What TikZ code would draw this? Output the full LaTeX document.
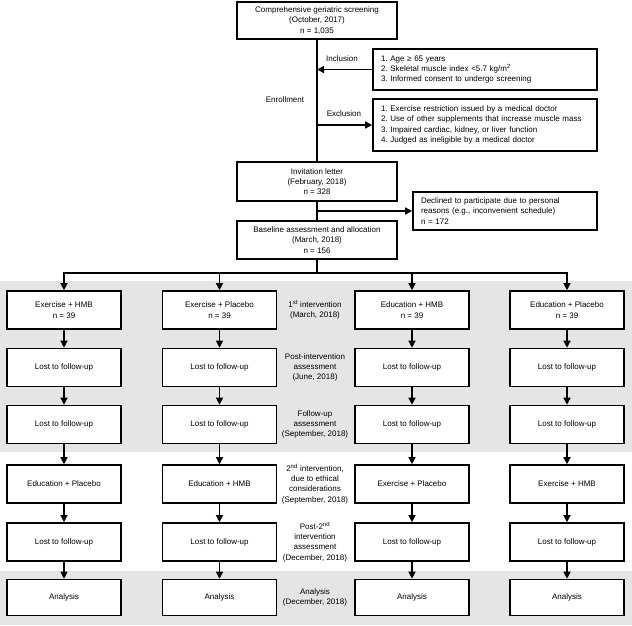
\documentclass[tikz,border=0pt]{standalone}
\usepackage{fontspec}
\setmainfont{Liberation Sans}
\usetikzlibrary{arrows.meta}
\begin{document}
\begin{tikzpicture}[x=1pt,y=-1pt,
  every node/.style={font=\fontsize{8}{10.3}\selectfont},
  box/.style={draw,line width=1.6pt,fill=white,align=center,inner sep=0pt,minimum height=38pt},
  mainbox/.style={box,minimum width=160pt},
  armbox/.style={box,minimum width=114pt},
  listbox/.style={draw,line width=1.6pt,fill=white,align=left,inner xsep=8pt,inner ysep=0pt},
  phase/.style={align=center,inner sep=0pt},
  link/.style={line width=1.3pt},
  arr/.style={link,-{Triangle[length=7pt,width=7pt]}}]

\useasboundingbox (0,0) rectangle (632,626);
\fill[black!10] (0,281) rectangle (632,452);
\fill[black!10] (0,571) rectangle (632,625);

\node[mainbox,minimum height=37pt] (screen) at (317,20.5) {Comprehensive geriatric screening\\(October, 2017)\\n = 1,035};
\node[listbox,text width=208pt,minimum height=41pt] (incl) at (485,69.5) {1.\ Age ≥ 65 years\\2.\ Skeletal muscle index <5.7 kg/m\textsuperscript{2}\\3.\ Informed consent to undergo screening};
\node[listbox,text width=208pt,minimum height=52pt] (excl) at (485,125) {1.\ Exercise restriction issued by a medical doctor\\2.\ Use of other supplements that increase muscle mass\\3.\ Impaired cardiac, kidney, or liver function\\4.\ Judged as ineligible by a medical doctor};
\node[mainbox,minimum height=39pt] (invite) at (317,181.5) {Invitation letter\\(February, 2018)\\n = 328};
\node[listbox,text width=168pt,minimum height=38pt] (decl) at (505,211) {Declined to participate due to personal\\reasons (e.g., inconvenient schedule)\\n = 172};
\node[mainbox] (base) at (317,240) {Baseline assessment and allocation\\(March, 2018)\\n = 156};

\node[phase] (inclab) at (342,59) {Inclusion};
\node[phase] (exclab) at (344,114) {Exclusion};
\node[phase] (enrol) at (285,100) {Enrollment};

\node[armbox] (a1) at (64,310) {Exercise + HMB\\n = 39};
\node[armbox] (a2) at (219.5,310) {Exercise + Placebo\\n = 39};
\node[armbox] (a3) at (412,310) {Education + HMB\\n = 39};
\node[armbox] (a4) at (567,310) {Education + Placebo\\n = 39};

\node[armbox] (b1) at (64,367.5) {Lost to follow-up};
\node[armbox] (b2) at (219.5,367.5) {Lost to follow-up};
\node[armbox] (b3) at (412,367.5) {Lost to follow-up};
\node[armbox] (b4) at (567,367.5) {Lost to follow-up};

\node[armbox] (c1) at (64,424.5) {Lost to follow-up};
\node[armbox] (c2) at (219.5,424.5) {Lost to follow-up};
\node[armbox] (c3) at (412,424.5) {Lost to follow-up};
\node[armbox] (c4) at (567,424.5) {Lost to follow-up};

\node[armbox] (d1) at (64,484) {Education + Placebo};
\node[armbox] (d2) at (219.5,484) {Education + HMB};
\node[armbox] (d3) at (412,484) {Exercise + Placebo};
\node[armbox] (d4) at (567,484) {Exercise + HMB};

\node[armbox] (e1) at (64,542) {Lost to follow-up};
\node[armbox] (e2) at (219.5,542) {Lost to follow-up};
\node[armbox] (e3) at (412,542) {Lost to follow-up};
\node[armbox] (e4) at (567,542) {Lost to follow-up};

\node[armbox,minimum height=36pt] (f1) at (64,597.5) {Analysis};
\node[armbox,minimum height=36pt] (f2) at (219.5,597.5) {Analysis};
\node[armbox,minimum height=36pt] (f3) at (412,597.5) {Analysis};
\node[armbox,minimum height=36pt] (f4) at (567,597.5) {Analysis};

\node[phase] (p1) at (315,310) {1\textsuperscript{st} intervention\\(March, 2018)};
\node[phase] (p2) at (315,367.5) {Post-intervention\\assessment\\(June, 2018)};
\node[phase] (p3) at (315,424.5) {Follow-up\\assessment\\(September, 2018)};
\node[phase] (p4) at (315,484) {2\textsuperscript{nd} intervention,\\due to ethical\\considerations\\(September, 2018)};
\node[phase] (p5) at (315,542) {Post-2\textsuperscript{nd}\\intervention\\assessment\\(December, 2018)};
\node[phase] (p6) at (315,597.5) {Analysis\\(December, 2018)};

\coordinate (split) at (317,273);

\draw[link] (screen) -- (invite);
\draw[arr] (incl.west) -- (incl.west -| screen.south);
\draw[arr] (excl.west -| screen.south) -- (excl.west);
\draw[link] (invite) -- (base);
\draw[arr] (decl.west -| invite.south) -- (decl.west);
\draw[link] (base) -- (split);
\draw[arr] (split) -| (a1);
\draw[arr] (split) -| (a2);
\draw[arr] (split) -| (a3);
\draw[arr] (split) -| (a4);

\draw[arr] (a1) -- (b1);
\draw[arr] (a2) -- (b2);
\draw[arr] (a3) -- (b3);
\draw[arr] (a4) -- (b4);
\draw[arr] (b1) -- (c1);
\draw[arr] (b2) -- (c2);
\draw[arr] (b3) -- (c3);
\draw[arr] (b4) -- (c4);
\draw[arr] (c1) -- (d1);
\draw[arr] (c2) -- (d2);
\draw[arr] (c3) -- (d3);
\draw[arr] (c4) -- (d4);
\draw[arr] (d1) -- (e1);
\draw[arr] (d2) -- (e2);
\draw[arr] (d3) -- (e3);
\draw[arr] (d4) -- (e4);
\draw[arr] (e1) -- (f1);
\draw[arr] (e2) -- (f2);
\draw[arr] (e3) -- (f3);
\draw[arr] (e4) -- (f4);

\end{tikzpicture}
\end{document}
